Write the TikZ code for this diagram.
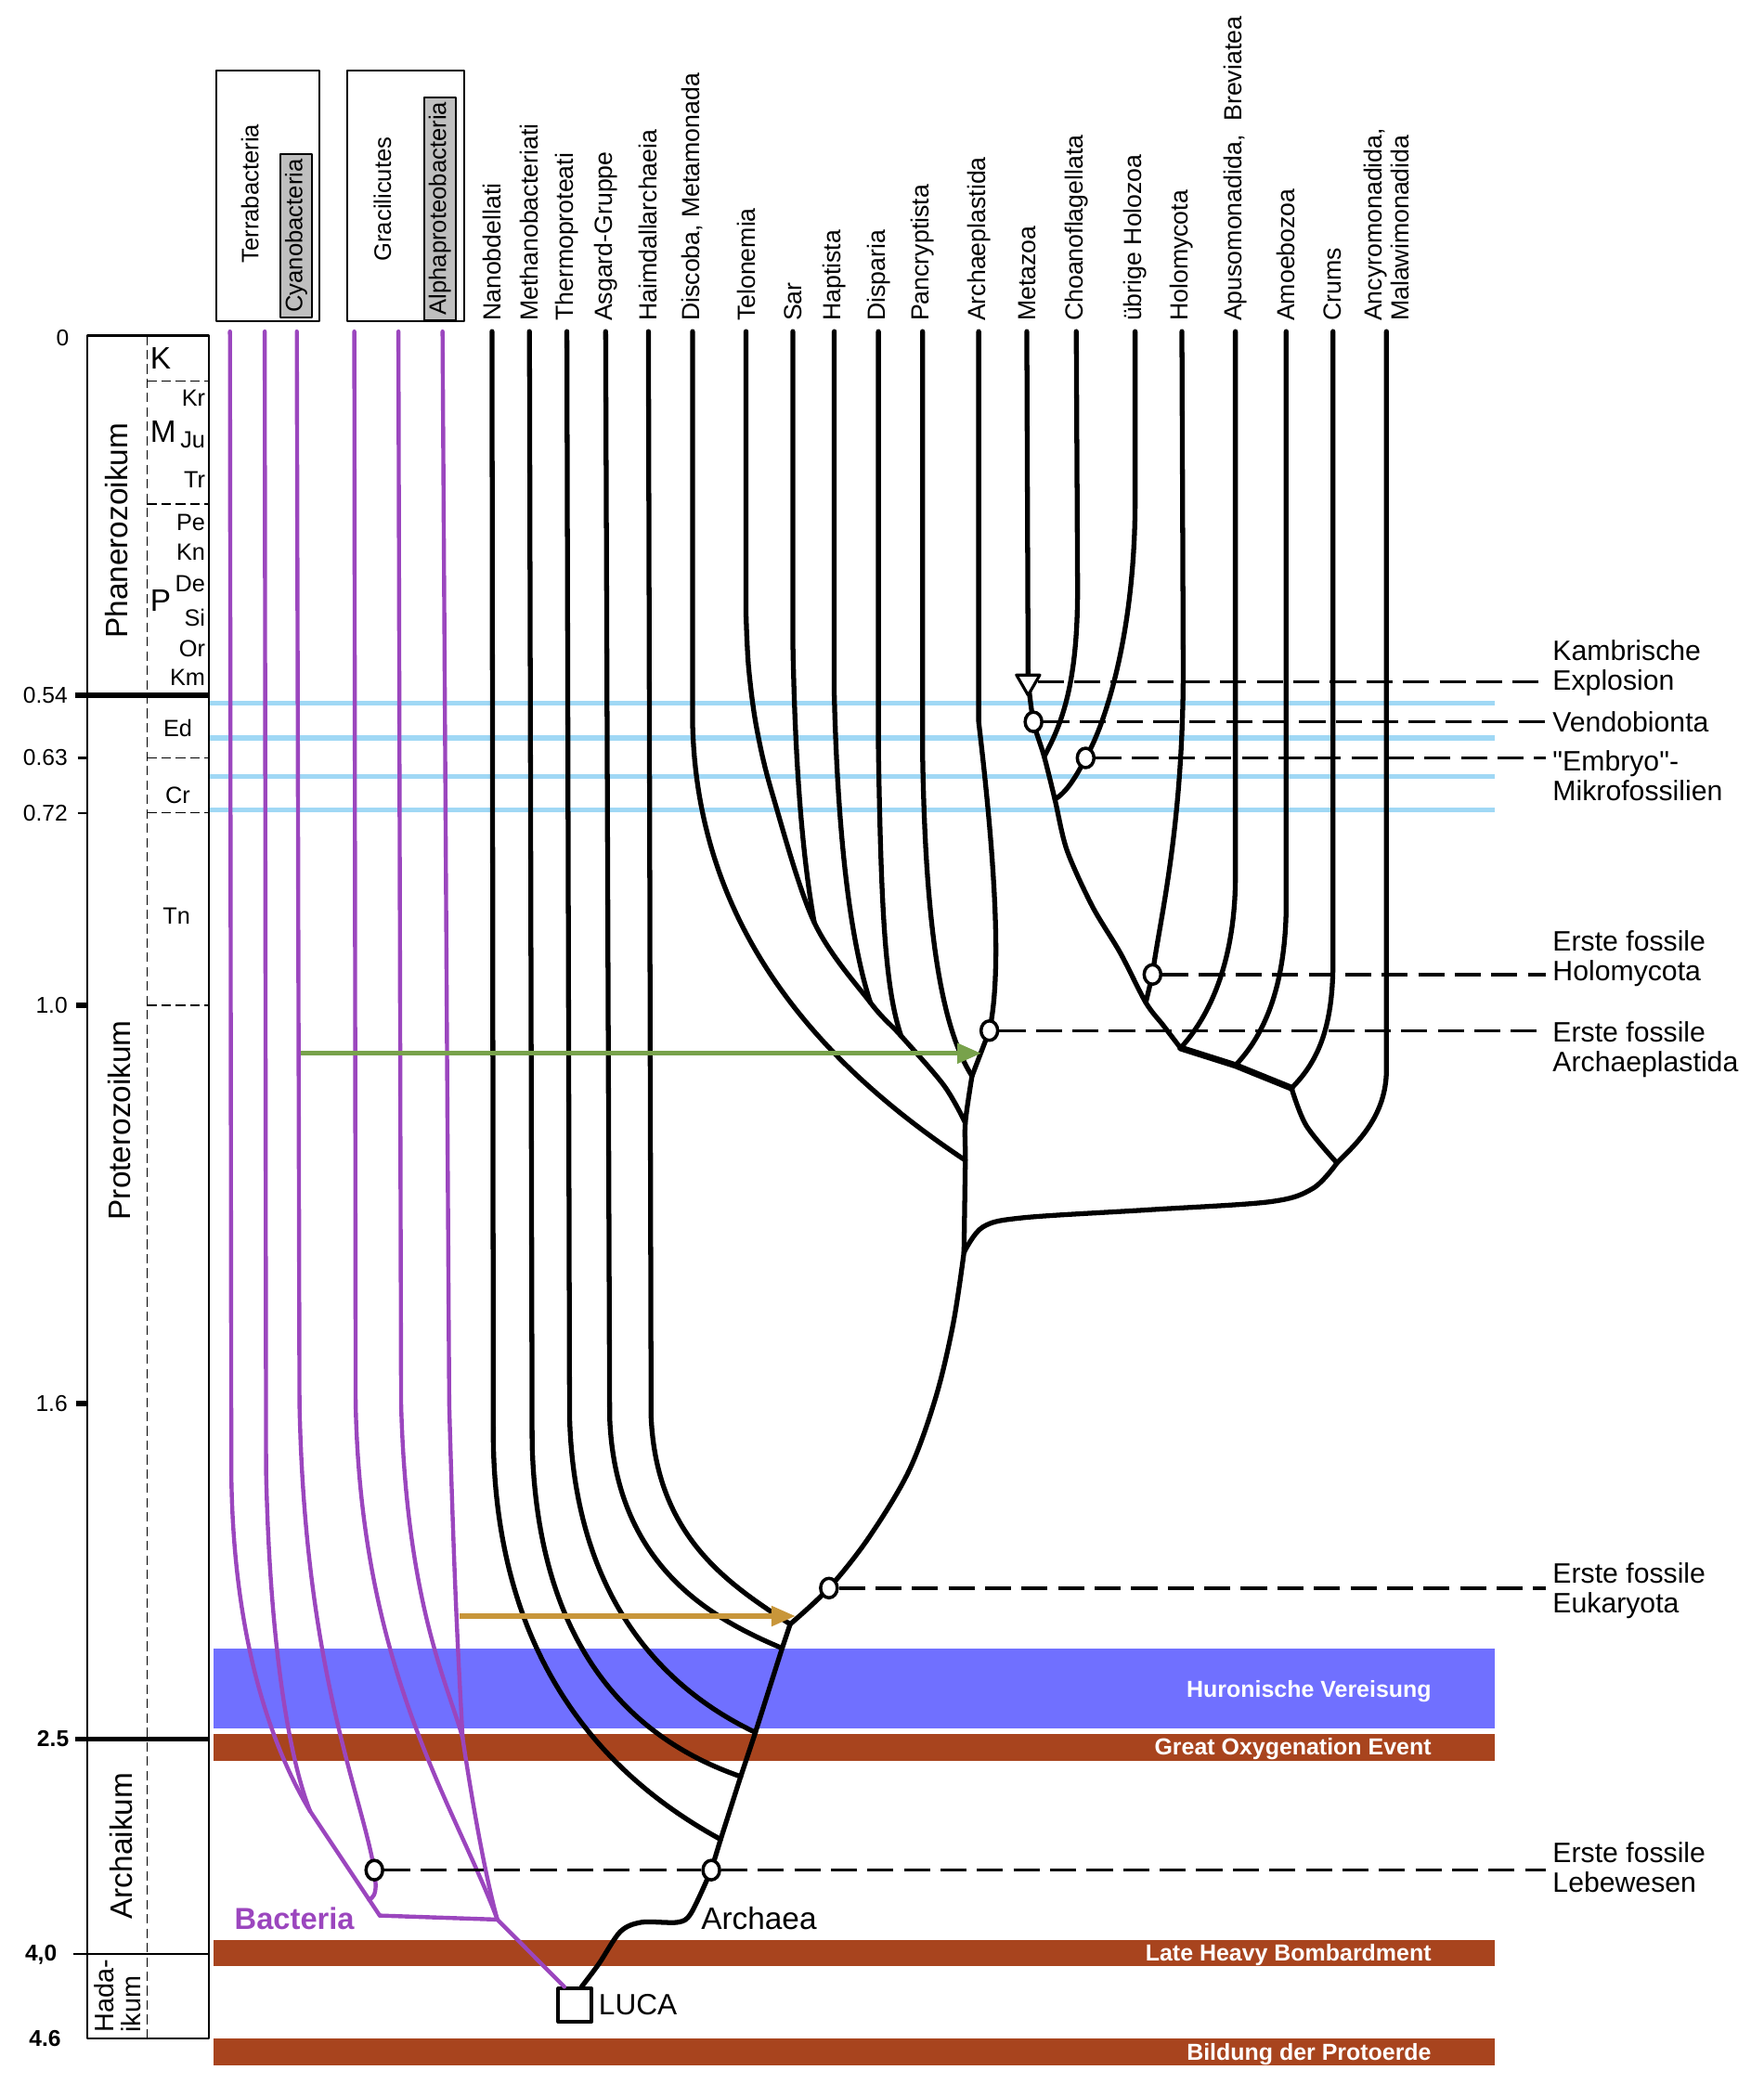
\documentclass[tikz,border=0pt]{standalone}
\usepackage{fontspec}
\setmainfont{Liberation Sans}
\newfontfamily\plainsans{Liberation Sans}
\usetikzlibrary{arrows.meta,shapes.geometric}

\definecolor{bactpurple}{RGB}{155,70,190}
\definecolor{bandbrown}{RGB}{168,68,30}
\definecolor{iceblue}{RGB}{112,112,255}
\definecolor{skyline}{RGB}{160,216,245}
\definecolor{plastgreen}{RGB}{120,162,75}
\definecolor{mitogold}{RGB}{200,150,58}

\begin{document}
\begin{tikzpicture}[x=0.14405mm,y=-0.14405mm,line join=round,
		leaf/.style={rotate=90,anchor=west,inner sep=3pt,font=\fontsize{7.6}{8.2}\selectfont},
		grouplabel/.style={rotate=90,inner sep=1.5pt,font=\fontsize{7.3}{8}\selectfont},
		greybox/.style={grouplabel,draw,line width=0.6pt,fill=black!25},
		twig/.style={line width=1.5pt,line cap=round},
		bacttwig/.style={line width=1.25pt,bactpurple,line cap=round},
		fossil/.style={ellipse,draw,line width=1pt,fill=white,inner sep=0pt,minimum width=1.8mm,minimum height=2.1mm},
		explosion/.style={regular polygon,regular polygon sides=3,shape border rotate=180,draw,line width=0.9pt,fill=white,inner sep=0pt,minimum size=2.9mm},
		event/.style={anchor=west,align=left,inner sep=2pt,font=\fontsize{8.6}{9.1}\selectfont},
		evline/.style={line width=1pt,dash pattern=on 8pt off 3.2pt},
		age/.style={anchor=east,inner sep=0pt,font=\fontsize{7}{8}\selectfont},
		boldage/.style={age,font=\bfseries\fontsize{7}{8}\selectfont},
		era/.style={rotate=90,inner sep=0pt,font=\fontsize{9.5}{8.6}\selectfont},
		period/.style={anchor=east,inner sep=0pt,font=\fontsize{7.2}{8}\selectfont},
		bigperiod/.style={anchor=west,inner sep=0pt,font=\fontsize{9.5}{10}\selectfont},
		bandtext/.style={anchor=base east,inner sep=0pt,text=white,font=\bfseries\fontsize{7.1}{8}\selectfont},
		tdash/.style={line width=0.5pt,dash pattern=on 2.9pt off 1.5pt},
		transfer/.style={line width=1.5pt,-{Triangle[length=2.6mm,width=2.1mm]}}]

	\useasboundingbox (0,0) rectangle (1319,1568);

	\foreach \y in {526,552,581,606} \draw[skyline,line width=1.6pt] (157,\y) -- (1118,\y);
	\fill[iceblue] (160,1233) rectangle (1118,1293);
	\fill[bandbrown] (160,1297) rectangle (1118,1317);
	\fill[bandbrown] (160,1451) rectangle (1118,1471);
	\fill[bandbrown] (160,1525) rectangle (1118,1545);
	\node[bandtext] (huron) at (1071,1270) {Huronische Vereisung};
	\node[bandtext] (goe) at (1071,1313) {Great Oxygenation Event};
	\node[bandtext] (lhb) at (1071,1467) {Late Heavy Bombardment};
	\node[bandtext] (proto) at (1071,1541) {Bildung der Protoerde};

	\draw[line width=0.6pt] (65,251) rectangle (156,1525);
	\draw[tdash] (110,251) -- (110,1525);
	\draw[line width=1.6pt] (56,520) -- (156,520);
	\draw[line width=1.6pt] (56,1301) -- (156,1301);
	\draw[line width=0.6pt] (55,1462) -- (156,1462);
	\draw[line width=1.6pt] (57,752) -- (65,752);
	\draw[line width=1.6pt] (57,1050) -- (65,1050);
	\draw[line width=0.6pt] (58,567) -- (65,567);
	\draw[line width=0.6pt] (58,608) -- (65,608);
	\foreach \y in {285,377,567,608,752} \draw[tdash] (110,\y) -- (156,\y);

	\node[age] (a0) at (52,253) {0};
	\node[age] (a054) at (51,520) {0.54};
	\node[age] (a063) at (51,567) {0.63};
	\node[age] (a072) at (51,608) {0.72};
	\node[age] (a10) at (51,752) {1.0};
	\node[age] (a16) at (51,1050) {1.6};
	\node[boldage] (a25) at (52,1301) {2.5};
	\node[boldage] (a40) at (43,1462) {4,0};
	\node[boldage] (a46) at (46,1525) {4.6};

	\node[era] (phan) at (87,397) {Phanerozoikum};
	\node[era] (prot) at (89,838) {Proterozoikum};
	\node[era] (arch) at (91,1381) {Archaikum};
	\node[era,anchor=west,align=left,font=\fontsize{8.2}{8.4}\selectfont] (hada) at (88,1521) {Hada-\\ikum};

	\node[bigperiod] (perK) at (112,268) {K};
	\node[bigperiod] (perM) at (112,323) {M};
	\node[bigperiod] (perP) at (112,449) {P};
	\node[period] (kr) at (154,298) {Kr};
	\node[period] (ju) at (154,329) {Ju};
	\node[period] (tr) at (154,359) {Tr};
	\node[period] (pe) at (154,391) {Pe};
	\node[period] (kn) at (154,413) {Kn};
	\node[period] (de) at (154,437) {De};
	\node[period] (si) at (154,462) {Si};
	\node[period] (or) at (154,485) {Or};
	\node[period] (km) at (154,507) {Km};
	\node[period,anchor=center] (ed) at (133,545) {Ed};
	\node[period,anchor=center] (cr) at (133,595) {Cr};
	\node[period,anchor=center] (tn) at (132,685) {Tn};

	\draw[line width=0.6pt] (162,53) rectangle (239,240);
	\node[grouplabel] (terra) at (187,145) {Terrabacteria};
	\node[greybox] (cyano) at (221.5,176.5) {Cyanobacteria};
	\draw[line width=0.6pt] (260,53) rectangle (347,240);
	\node[grouplabel] (graci) at (286,149) {Gracilicutes};
	\node[greybox] (alpha) at (329,156) {Alphaproteobacteria};

	\node[leaf] (Nan) at (368,248) {Nanobdellati};
	\node[leaf] (Met) at (396,248) {Methanobacteriati};
	\node[leaf] (The) at (424,248) {Thermoproteati};
	\node[leaf] (Asg) at (453,248) {Asgard-Gruppe};
	\node[leaf] (Hai) at (485,248) {Haimdallarchaeia};
	\node[leaf] (Dis) at (518,248) {Discoba, Metamonada};
	\node[leaf] (Tel) at (558,248) {Telonemia};
	\node[leaf] (Sar) at (593,248) {Sar};
	\node[leaf] (Hap) at (624,248) {Haptista};
	\node[leaf] (Dsp) at (657,248) {Disparia};
	\node[leaf] (Pan) at (690,248) {Pancryptista};
	\node[leaf] (Arp) at (732,248) {Archaeplastida};
	\node[leaf] (Mez) at (768,248) {Metazoa};
	\node[leaf] (Cho) at (805,248) {Choanoflagellata};
	\node[leaf] (Hoz) at (849,248) {übrige Holozoa};
	\node[leaf] (Hmy) at (884,248) {Holomycota};
	\node[leaf] (Apu) at (924,248) {Apusomonadida,\ \ Breviatea};
	\node[leaf] (Amo) at (962,248) {Amoebozoa};
	\node[leaf] (Cru) at (997,248) {Crums};
	\node[leaf,align=left] (Anc) at (1037,248) {Ancyromonadida,\\Malawimonadida};

	\node[draw,line width=1pt,fill=white,minimum size=3.6mm,inner sep=0pt,
		label={[font=\fontsize{9}{10}\selectfont,inner sep=1.5pt]right:LUCA}] (LUCA) at (430,1500) {};

	\coordinate (pArc) at (532,1399);
	\coordinate (jNan) at (539,1376);
	\coordinate (jMet) at (554,1329);
	\coordinate (jThe) at (565,1296);
	\coordinate (jAsg) at (585,1233);
	\coordinate (jHai) at (591,1215);
	\coordinate (pEuk) at (620,1188);
	\coordinate (jSpl) at (721,937);
	\coordinate (jDis) at (722,868);
	\coordinate (jTel) at (722,840);
	\coordinate (jArc) at (727,805);
	\coordinate (pArp) at (740,771);
	\coordinate (jSar) at (609,690);
	\coordinate (jHap) at (651,750);
	\coordinate (jDsp) at (674,775);
	\coordinate (jAmo) at (1000,870);
	\coordinate (jCru) at (966,814);
	\coordinate (jAmb) at (924,797);
	\coordinate (jApu) at (883,784);
	\coordinate (jHmy) at (857,750);
	\coordinate (pHmy) at (862,729);
	\coordinate (jHoz) at (789,598);
	\coordinate (pEmb) at (812,567);
	\coordinate (jCho) at (781,566);
	\coordinate (pVen) at (773,540);
	\coordinate (pKam) at (769,510);

	\coordinate (bTer1) at (172,248);
	\coordinate (bTer2) at (198,248);
	\coordinate (bCya) at (222,248);
	\coordinate (bGra1) at (265,248);
	\coordinate (bGra2) at (298,248);
	\coordinate (bAlp) at (331,248);
	\coordinate (jTer) at (232,1355);
	\coordinate (pBac) at (280,1399);
	\coordinate (jCya) at (276,1421);
	\coordinate (jBac) at (284,1433);
	\coordinate (jAlp) at (346,1300);
	\coordinate (jGra) at (372,1436);

	\draw[bacttwig] (bTer1) -- (173,1100) .. controls (174,1230) and (205,1310) .. (jTer) -- (jBac);
	\draw[bacttwig] (bTer2) -- (199,1100) .. controls (202,1240) and (218,1320) .. (jTer);
	\draw[bacttwig] (bCya) -- (224,1050) .. controls (228,1250) and (270,1340) .. (pBac) -- (281,1410) .. controls (281,1417) and (279,1420) .. (jCya);
	\draw[bacttwig] (jBac) -- (jGra) -- (LUCA.120);
	\draw[bacttwig] (bGra1) -- (266,1050) .. controls (270,1250) and (340,1350) .. (jGra);
	\draw[bacttwig] (bGra2) -- (300,1050) .. controls (304,1200) and (335,1260) .. (jAlp);
	\draw[bacttwig] (bAlp) -- (336,1050) .. controls (340,1200) and (344,1260) .. (jAlp);
	\draw[bacttwig] (jAlp) .. controls (352,1340) and (362,1400) .. (jGra);

	\draw[twig] plot[smooth,tension=0.5] coordinates {(LUCA.70) (448,1469) (464,1445) (480,1438) (507,1438) (517,1431) (pArc)};
	\draw[twig] (pArc) -- (jNan) -- (jMet) -- (jThe) -- (jAsg) -- (jHai);
	\draw[twig] (Nan.west) -- (369,1080) .. controls (372,1230) and (440,1322) .. (jNan);
	\draw[twig] (Met.west) -- (398,1080) .. controls (402,1230) and (470,1300) .. (jMet);
	\draw[twig] (The.west) -- (426,1060) .. controls (430,1200) and (500,1265) .. (jThe);
	\draw[twig] (Asg.west) -- (456,1060) .. controls (460,1170) and (530,1210) .. (jAsg);
	\draw[twig] (Hai.west) -- (487,1060) .. controls (491,1150) and (545,1185) .. (jHai);
	\draw[twig] plot[smooth,tension=0.55] coordinates {(jHai) (pEuk) (650,1150) (680,1100) (700,1045) (713,990) (jSpl)};

	\draw[twig] plot[smooth,tension=0.5] coordinates {(jSpl) (jDis) (jTel) (jArc)};
	\draw[twig] (Dis.west) -- (518,540) .. controls (521,700) and (620,800) .. (jDis);
	\draw[twig] (Tel.west) -- plot[smooth,tension=0.55] coordinates {(558,460) (560,500) (566,545) (578,595) (jSar) (jHap) (jDsp) (706,812) (jTel)};
	\draw[twig] (Sar.west) -- (593,480) .. controls (595,590) and (602,650) .. (jSar);
	\draw[twig] (Hap.west) -- (624,520) .. controls (627,640) and (638,710) .. (jHap);
	\draw[twig] (Dsp.west) -- (657,560) .. controls (659,680) and (662,740) .. (jDsp);
	\draw[twig] (Pan.west) -- (690,560) .. controls (692,700) and (705,770) .. (jArc);
	\draw[twig] (Arp.west) -- (732,540) .. controls (745,650) and (749,730) .. (pArp) -- (jArc);

	\draw[twig] plot[smooth,tension=0.55] coordinates {(jSpl) (735,918) (765,911) (860,905) (950,899) (982,889) (jAmo)};
	\draw[twig] (Anc.west) -- (1037,800) .. controls (1037,835) and (1015,855) .. (jAmo);
	\draw[twig] plot[smooth,tension=0.55] coordinates {(jAmo) (977,842) (jCru)};
	\draw[twig] (Cru.west) -- (997,720) .. controls (997,770) and (985,795) .. (jCru);
	\draw[twig,line width=2pt] (jCru) -- (jAmb) -- (jApu);
	\draw[twig] (Amo.west) -- (962,680) .. controls (961,740) and (945,775) .. (jAmb);
	\draw[twig] (Apu.west) -- (924,660) .. controls (923,720) and (905,760) .. (jApu);
	\draw[twig] (Hmy.west) -- (885,500) .. controls (885,620) and (867,690) .. (pHmy) -- (jHmy);
	\draw[twig] (Mez.west) -- (pKam);
	\draw[twig] plot[smooth,tension=0.5] coordinates {(pKam) (pVen) (jCho) (jHoz) (798,636) (817,678) (838,713) (jHmy) (870,767) (jApu)};
	\draw[twig] (Cho.west) -- (806,440) .. controls (806,510) and (795,540) .. (jCho);
	\draw[twig] (Hoz.west) -- (849,380) .. controls (848,480) and (825,545) .. (pEmb) .. controls (804,583) and (797,593) .. (jHoz);

	\coordinate (plastidSrc) at (225,788);
	\coordinate (plastidDst) at (734,788);
	\coordinate (mitoSrc) at (344,1209);
	\coordinate (mitoDst) at (595,1209);
	\draw[transfer,plastgreen] (plastidSrc) -- (plastidDst);
	\draw[transfer,mitogold] (mitoSrc) -- (mitoDst);

	\node[fossil] (cArc) at (pArc) {};
	\node[fossil] (cBac) at (pBac) {};
	\node[fossil] (cEuk) at (pEuk) {};
	\node[fossil] (cArp) at (pArp) {};
	\node[fossil] (cHmy) at (pHmy) {};
	\node[fossil] (cEmb) at (pEmb) {};
	\node[fossil] (cVen) at (pVen) {};
	\node[explosion] (tKam) at (pKam) {};

	\node[event] (lKam) at (1156,500) {Kambrische\\Explosion};
	\node[event] (lVen) at (1156,540) {Vendobionta};
	\node[event] (lEmb) at (1156,580) {{\plainsans"Embryo"-}\\Mikrofossilien};
	\node[event] (lHmy) at (1156,717) {Erste fossile\\Holomycota};
	\node[event] (lArp) at (1156,785) {Erste fossile\\Archaeplastida};
	\node[event] (lEuk) at (1156,1190) {Erste fossile\\Eukaryota};
	\node[event] (lLeb) at (1156,1397) {Erste fossile\\Lebewesen};

	\draw[evline] (tKam) -- (tKam -| lKam.west);
	\draw[evline] (cVen) -- (cVen -| lVen.west);
	\draw[evline] (cEmb) -- (cEmb -| lEmb.west);
	\draw[evline] (cHmy) -- (cHmy -| lHmy.west);
	\draw[evline] (cArp) -- (cArp -| lArp.west);
	\draw[evline] (cEuk) -- (cEuk -| lEuk.west);
	\draw[evline] (cBac) -- (cArc);
	\draw[evline] (cArc) -- (cArc -| lLeb.west);

	\node[anchor=west,inner sep=0pt,font=\fontsize{9.5}{10}\selectfont] (archaea) at (524,1435) {Archaea};
	\node[anchor=west,inner sep=0pt,text=bactpurple,font=\bfseries\fontsize{9.3}{10}\selectfont] (bacteria) at (175,1435) {Bacteria};

\end{tikzpicture}
\end{document}
